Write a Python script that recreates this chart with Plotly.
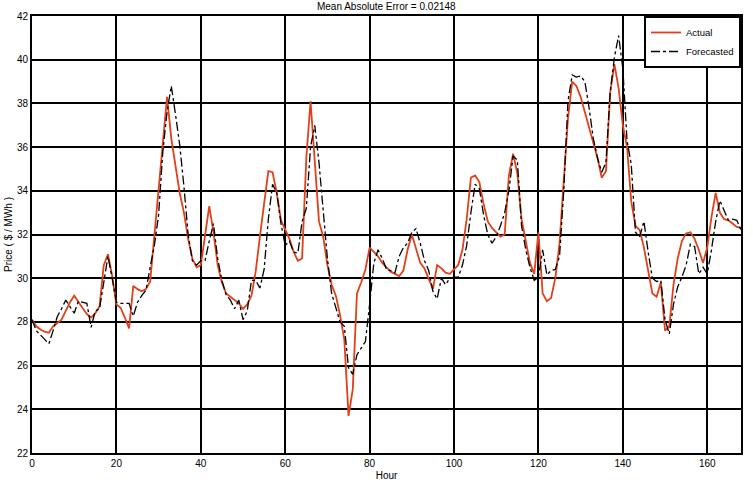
import plotly.graph_objects as go

hours = list(range(0, 169))

actual = [
    28.1, 27.8, 27.65, 27.55, 27.5, 27.8, 27.95, 28.1, 28.5, 28.9,
    29.2, 28.9, 28.6, 28.35, 28.2, 28.4, 28.7, 30.6, 31.1, 30.1,
    28.8, 28.65, 28.2, 27.7, 29.65, 29.5, 29.4, 29.5, 29.85, 31.9,
    33.9, 36.0, 38.3, 36.4, 35.1, 33.9, 33.0, 31.8, 30.9, 30.5,
    30.6, 32.0, 33.3, 32.1, 30.6, 29.8, 29.3, 29.15, 29.0, 28.85,
    28.6, 28.8, 29.2, 30.3, 31.9, 33.3, 34.9, 34.85, 33.9, 32.65,
    32.2, 31.8, 31.2, 30.8, 30.9, 35.5, 38.1, 35.3, 32.6, 31.9,
    30.6, 29.7, 29.2, 28.3, 27.2, 23.7, 24.9, 29.3, 29.8, 30.4,
    31.4, 31.2, 31.0, 30.7, 30.5, 30.3, 30.2, 30.1, 30.35, 31.3,
    32.0, 31.3, 30.7, 30.45, 30.0, 29.5, 30.6, 30.45, 30.25, 30.2,
    30.4, 30.6, 31.3, 32.7, 34.6, 34.7, 34.4, 33.4, 32.6, 32.3,
    32.1, 31.9, 32.0, 34.7, 35.7, 34.8, 32.7, 31.7, 30.7, 30.2,
    32.1, 29.3, 28.95, 29.1, 30.0, 31.6, 34.4, 37.3, 39.0, 38.8,
    38.3, 37.6, 37.0, 36.2, 35.5, 34.6, 34.9, 38.5, 39.8, 38.7,
    37.0, 36.0, 33.5, 32.4, 32.2, 31.4, 30.3, 29.3, 29.15, 29.8,
    27.6, 27.8, 29.7, 30.9, 31.7, 32.05, 32.1, 31.8, 31.3, 30.7,
    31.4, 32.8, 33.9, 33.0, 32.7, 32.65, 32.5, 32.35, 32.3,
]

forecast = [
    28.1, 27.6, 27.4, 27.2, 27.0, 27.6, 28.25, 28.6, 29.0, 28.7,
    28.4, 28.95, 28.9, 28.85, 27.75, 28.5, 28.6, 29.8, 31.0, 30.0,
    28.9, 28.85, 28.85, 28.85, 28.26, 28.9, 29.2, 29.45, 30.5, 31.5,
    32.9, 35.8, 37.6, 38.8, 37.5, 36.1, 34.2, 32.0, 30.8, 30.6,
    30.8, 30.8, 31.7, 32.5, 30.9, 29.9, 29.25, 29.0, 28.6, 29.0,
    28.1, 28.5, 29.9, 29.9, 29.55, 30.4, 32.7, 34.3, 33.9, 32.5,
    31.5, 31.7, 31.2, 31.15, 32.6, 33.2, 36.0, 37.0, 35.3, 33.0,
    30.9, 29.3, 28.7, 28.0, 27.8, 25.9, 25.6, 26.5, 26.8, 27.1,
    28.8, 30.7, 31.3, 30.9, 30.4, 30.35, 30.25, 31.0, 31.4, 31.6,
    32.1, 32.27, 31.6, 30.8, 30.35, 29.4, 29.05, 30.0, 29.7, 30.0,
    30.05, 30.05, 30.6, 31.5, 33.0, 34.3, 34.1, 32.9, 32.0, 31.6,
    31.9, 32.4, 33.0, 34.0, 35.6, 35.4, 32.4, 31.3, 30.5, 29.9,
    30.05, 31.3, 30.15, 30.35, 30.4, 31.0, 34.0, 38.1, 39.3, 39.2,
    39.25, 39.0, 37.8, 36.4, 35.5, 34.85, 35.3, 38.5, 40.1, 41.1,
    39.6, 36.3, 35.2, 32.1, 31.9, 32.6, 31.2, 30.0, 29.85, 29.9,
    28.1, 27.45, 28.8, 29.6, 30.05, 30.6, 31.55, 31.45, 30.2, 30.5,
    30.2, 31.3, 32.6, 33.55, 33.1, 32.65, 32.7, 32.65, 32.2,
]

x_ticks = [0, 20, 40, 60, 80, 100, 120, 140, 160]
y_ticks = [22, 24, 26, 28, 30, 32, 34, 36, 38, 40, 42]

FONT = "Liberation Sans Narrow, Liberation Sans, Arial, sans-serif"

fig = go.Figure()
fig.add_trace(go.Scatter(
    x=hours, y=actual, mode="lines", name="Actual",
    line=dict(color="#E0401A", width=1.8),
))
fig.add_trace(go.Scatter(
    x=hours, y=forecast, mode="lines", name="Forecasted",
    line=dict(color="black", width=1.3, dash="dashdot"),
))

fig.update_layout(
    width=753, height=487,
    margin=dict(l=31.5, r=12.3, t=15.5, b=34, autoexpand=False),
    paper_bgcolor="white", plot_bgcolor="white",
    font=dict(family=FONT, size=10, color="black"),
    title=dict(text="Mean Absolute Error = 0.02148", x=0.513, xanchor="center",
               yref="container", y=0.987, yanchor="middle",
               font=dict(size=10), automargin=False),
    showlegend=True,
    legend=dict(x=1, y=1, xanchor="right", yanchor="top",
                bgcolor="white", bordercolor="black", borderwidth=2,
                font=dict(size=9.5), tracegroupgap=0, itemwidth=30),
    xaxis=dict(
        range=[0, 168], tickvals=x_ticks, ticktext=[str(v) for v in x_ticks],
        showgrid=True, gridcolor="black", gridwidth=2,
        showline=True, linecolor="black", linewidth=2, mirror=True,
        zeroline=False, ticks="", ticklen=0, automargin=False,
        title=dict(text="Hour", standoff=4, font=dict(size=10)),
    ),
    yaxis=dict(
        range=[22, 42], tickvals=y_ticks, ticktext=[str(v) for v in y_ticks],
        showgrid=True, gridcolor="black", gridwidth=1.5,
        showline=True, linecolor="black", linewidth=2, mirror=True,
        zeroline=False, ticks="", ticklen=0, automargin=False,
        title=dict(text="Price ( $ / MWh )", standoff=2, font=dict(size=10)),
    ),
)

fig.write_html("out.html", config={"displayModeBar": False},
               post_script="document.body.style.margin='0';")
